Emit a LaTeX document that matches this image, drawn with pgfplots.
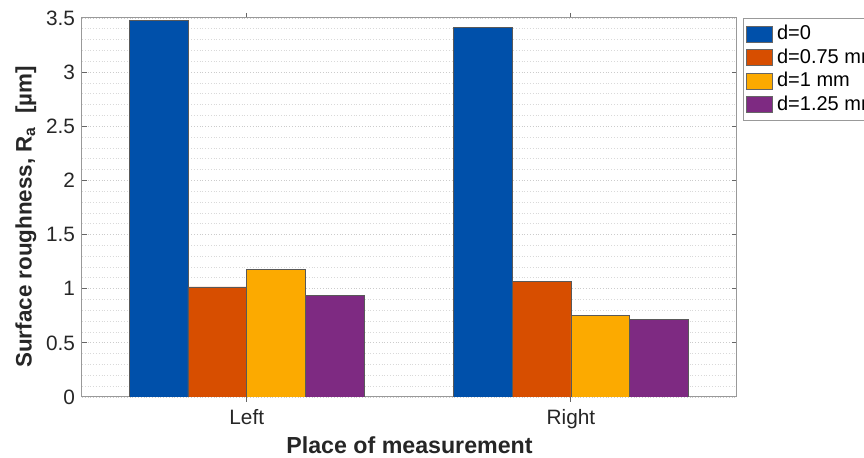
\documentclass[border=0pt]{standalone}
\usepackage{pgfplots}
\pgfplotsset{compat=1.18}
\usepackage{fontspec}
\setmainfont{Liberation Sans}
\definecolor{cblue}{RGB}{0,80,170}
\definecolor{corange}{RGB}{215,78,0}
\definecolor{cyellow}{RGB}{252,170,0}
\definecolor{cpurple}{RGB}{126,42,130}
\begin{document}
\begin{tikzpicture}
\begin{axis}[
  at={(0,0)}, anchor=south west,
  scale only axis, width=327.5pt, height=189.5pt,
  xmin=0.492, xmax=2.512, ymin=0, ymax=3.5,
  xtick={1,2}, xticklabels={Left,Right},
  ytick={0,0.5,1,1.5,2,2.5,3,3.5},
  minor y tick num=4,
  minor tick length=0pt,
  tick align=inside, major tick length=2.5pt,
  axis line style={gray!80, line width=0.5pt},
  tick style={gray!80!black, line width=0.5pt},
  ymajorgrids, yminorgrids,
  major grid style={densely dotted, gray!40, line width=0.4pt},
  minor grid style={densely dotted, gray!30, line width=0.4pt},
  /pgf/number format/assume math mode=true,
  ticklabel style={font=\fontsize{10.4}{12}\selectfont, text=black!85},
  xlabel={Place of measurement},
  ylabel={Surface roughness, R\textsubscript{a}\ \ [µm]},
  xlabel style={font=\bfseries\fontsize{11.6}{13.5}\selectfont, text=black!85,
    at={(axis description cs:0.5,-0.1266)}, anchor=center},
  ylabel style={font=\bfseries\fontsize{11.2}{13}\selectfont, text=black!85,
    at={(axis description cs:-0.0855,0.475)}, anchor=center},
  ybar, bar width=0.1815,
  every axis plot/.append style={draw=black!65, line width=0.35pt},
  legend style={at={(rel axis cs:1,1)}, anchor=north west, xshift=3pt,
    draw=gray!80, font=\fontsize{10}{12}\selectfont, inner sep=1.5pt,
    row sep=-1pt},
  legend cell align=left,
  legend image code/.code={\draw[#1, draw=black!60] (0pt,-4pt) rectangle (13pt,4pt);},
]
\addplot[fill=cblue, bar shift=-0.27225] coordinates {(1,3.48) (2,3.41)};
\addplot[fill=corange, bar shift=-0.09075] coordinates {(1,1.017) (2,1.064)};
\addplot[fill=cyellow, bar shift=0.09075] coordinates {(1,1.18) (2,0.75)};
\addplot[fill=cpurple, bar shift=0.27225] coordinates {(1,0.94) (2,0.72)};
\legend{d=0, d=0.75 mm, d=1 mm, d=1.25 mm}
\end{axis}
\pgfresetboundingbox
\path[use as bounding box] (-41pt,-30.5pt) rectangle (391pt,198.5pt);
\end{tikzpicture}
\end{document}
